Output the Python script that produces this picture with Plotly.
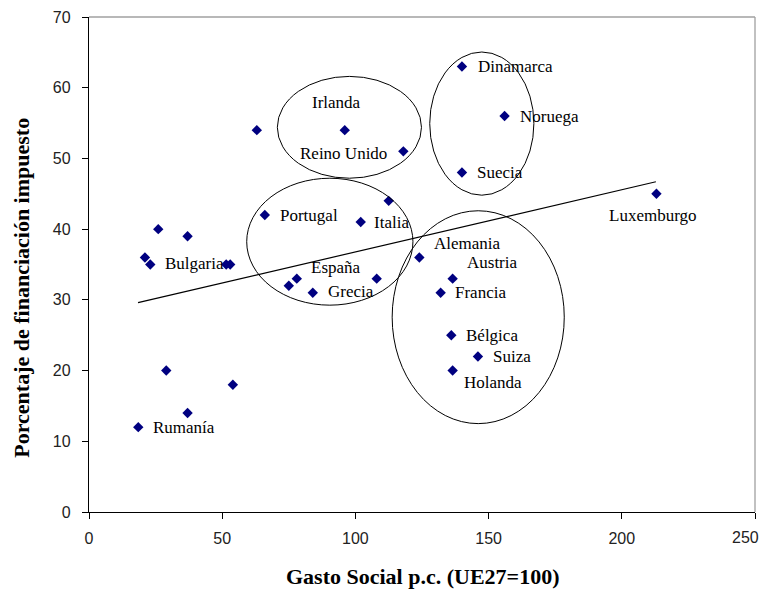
import plotly.graph_objects as go

# ---- data ----
paises = ["Dinamarca", "Noruega", "Suecia", "Luxemburgo", "Reino Unido", "Irlanda", "",
          "Portugal", "Italia", "", "", "", "", "Bulgaria", "", "", "", "España", "Grecia", "",
          "Alemania", "Austria", "Francia", "Bélgica", "Suiza", "Holanda", "", "", "", "Rumanía"]
gasto_social = [140, 156, 140, 213, 118, 96, 63,
                66, 102, 112.5, 26, 37, 21, 23, 51.5, 53, 75, 78, 84, 108,
                124, 136.5, 132, 136, 146, 136.5, 29, 54, 37, 18.5]
financiacion_impuestos = [63, 56, 48, 45, 51, 54, 54,
                          42, 41, 44, 40, 39, 36, 35, 35, 35, 32, 33, 31, 33,
                          36, 33, 31, 25, 22, 20, 20, 18, 14, 12]

tendencia_x = [18.4, 212.8]
tendencia_y = [29.6, 46.7]

x_ticks = [0, 50, 100, 150, 200, 250]
x_tick_labels = ["0", "50", "100", "150", "200", "250"]
y_ticks = [0, 10, 20, 30, 40, 50, 60, 70]

# group ellipses (x0, x1, y0, y1) in data units
grupos = [
    (70.7, 124.8, 47.2, 61.6),   # Irlanda / Reino Unido
    (127.9, 167.0, 44.8, 65.05), # nórdicos
    (59.2, 121.6, 29.25, 47.2),  # Portugal / Italia / España / Grecia
    (113.8, 178.4, 12.5, 42.6),  # continentales
]

# label placement: xanchor, xshift, yshift (pixels)
etiquetas = {
    "Dinamarca": ("left", 14, 0),
    "Noruega": ("left", 13, 0),
    "Suecia": ("left", 13, 0),
    "Luxemburgo": ("center", -3, -22),
    "Reino Unido": ("right", -14, -2),
    "Irlanda": ("center", -8, 28),
    "Portugal": ("left", 13, 0),
    "Italia": ("left", 11, 0),
    "Bulgaria": ("left", 13, 1),
    "España": ("left", 12, 11),
    "Grecia": ("left", 13, 1),
    "Rumanía": ("left", 13, 0),
    "Alemania": ("left", 13, 14),
    "Austria": ("left", 12, 16),
    "Francia": ("left", 12, 0),
    "Bélgica": ("left", 13, 0),
    "Suiza": ("left", 13, 0),
    "Holanda": ("left", 9, -12),
}

SERIF = "Liberation Serif, Times New Roman, serif"
SANS = "Liberation Sans, Arial, sans-serif"
TICKFONT = dict(family=SANS, size=16, color="#222")

fig = go.Figure()

fig.add_trace(go.Scatter(
    x=tendencia_x, y=tendencia_y, mode="lines",
    line=dict(color="black", width=1.2), hoverinfo="skip", showlegend=False))

fig.add_trace(go.Scatter(
    x=gasto_social, y=financiacion_impuestos, mode="markers",
    marker=dict(symbol="diamond", size=8, color="#000080"),
    text=paises, showlegend=False))

shapes = []
for (x0, x1, y0, y1) in grupos:
    shapes.append(dict(type="circle", xref="x", yref="y", x0=x0, x1=x1, y0=y0, y1=y1,
                       line=dict(color="black", width=1)))
# gray plot-area border (top and right)
shapes.append(dict(type="line", xref="paper", yref="paper", x0=0, x1=1, y0=1, y1=1,
                   line=dict(color="#a0a0a0", width=1.3)))
shapes.append(dict(type="line", xref="paper", yref="paper", x0=1, x1=1, y0=0, y1=1,
                   line=dict(color="#a0a0a0", width=1.3)))

annotations = []
for name, gx, fy in zip(paises, gasto_social, financiacion_impuestos):
    if name in etiquetas:
        anc, dx, dy = etiquetas[name]
        annotations.append(dict(x=gx, y=fy, xref="x", yref="y", text=name, showarrow=False,
                                xanchor=anc, yanchor="middle", xshift=dx, yshift=dy,
                                font=dict(family=SERIF, size=17, color="black")))

# last x tick label, nudged left to stay inside the window (as the reference does)
annotations.append(dict(x=x_ticks[-1], y=0, xref="x", yref="y", text=x_tick_labels[-1],
                        showarrow=False, xanchor="center", yanchor="middle",
                        xshift=-10, yshift=-25, font=TICKFONT))

annotations.append(dict(text="<b>Gasto Social p.c. (UE27=100)</b>", xref="paper", yref="paper",
                        x=0.501, y=0, yshift=-64, xanchor="center", yanchor="middle",
                        showarrow=False, font=dict(family=SERIF, size=22, color="black")))
annotations.append(dict(text="<b>Porcentaje de financiación impuesto</b>", xref="paper", yref="paper",
                        x=0, xshift=-67, y=0.453, xanchor="center", yanchor="middle", textangle=-90,
                        showarrow=False, font=dict(family=SERIF, size=22, color="black")))

# the page adds an 8px body margin, so the figure is sized to fit the 768x589 window
fig.update_layout(
    width=760, height=581,
    margin=dict(l=81, r=13, t=9, b=77, autoexpand=False),
    paper_bgcolor="white", plot_bgcolor="white",
    shapes=shapes, annotations=annotations,
    xaxis=dict(range=[0, 250], tickvals=x_ticks,
               ticktext=x_tick_labels[:-1] + [""],
               showgrid=False, zeroline=False, automargin=False,
               showline=True, linecolor="black", linewidth=1.3,
               ticks="outside", ticklen=6, tickcolor="black", tickwidth=1.3,
               ticklabelstandoff=6, tickfont=TICKFONT),
    yaxis=dict(range=[0, 70], tickvals=y_ticks, showgrid=False, zeroline=False,
               automargin=False,
               showline=True, linecolor="black", linewidth=1.3,
               ticks="outside", ticklen=6, tickcolor="black", tickwidth=1.3,
               ticklabelstandoff=8, tickfont=TICKFONT),
)

fig.write_html("out.html")
